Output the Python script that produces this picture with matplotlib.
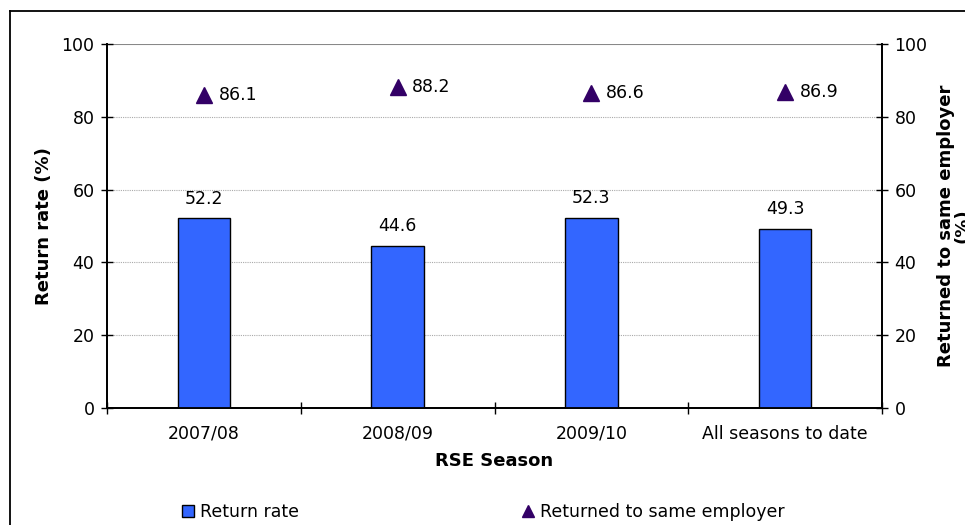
import numpy as np
import matplotlib.pyplot as plt
from matplotlib.lines import Line2D

# data
seasons = ['2007/08', '2008/09', '2009/10', 'All seasons to date']
return_rate = [52.2, 44.6, 52.3, 49.3]
same_employer = [86.1, 88.2, 86.6, 86.9]
y_ticks = [0, 20, 40, 60, 80, 100]

bar_color = '#3366FF'
tri_color = '#330066'
fs = 12.5

plt.rcParams['font.family'] = ['DejaVu Sans']
plt.rcParams['font.size'] = fs

fig = plt.figure(figsize=(9.65, 5.25), dpi=100)
ax = fig.add_axes([107 / 965, 1 - 408 / 525, 775 / 965, 364 / 525])
ax2 = ax.twinx()

x = np.arange(len(seasons))
ax.bar(x, return_rate, width=0.27, color=bar_color, edgecolor='black', linewidth=1, zorder=3)
for xi, v in zip(x, return_rate):
    ax.text(xi, v + 2.8, f'{v:.1f}', ha='center', va='bottom', fontsize=fs)

ax.plot(x, same_employer, linestyle='none', marker='^', markersize=12,
        color=tri_color, zorder=4)
for xi, v in zip(x, same_employer):
    ax.text(xi + 0.075, v, f'{v:.1f}', ha='left', va='center', fontsize=fs)

ax.set_xlim(-0.5, len(seasons) - 0.5)
ax.set_ylim(0, 100)
ax2.set_ylim(0, 100)

# gridlines
for t in y_ticks[1:-1]:
    ax.axhline(t, color='#aaaaaa', linewidth=0.8, linestyle=(0, (1, 1)), zorder=1)
ax.axhline(100, color='#888888', linewidth=1.5, zorder=1)

# category ticks at boundaries, labels centred
ax.set_xticks(np.arange(-0.5, len(seasons), 1.0))
ax.set_xticklabels([])
ax.set_xticks(x, minor=True)
ax.set_xticklabels(seasons, minor=True)
ax.tick_params(axis='x', which='major', direction='inout', length=8, width=1)
ax.tick_params(axis='x', which='minor', length=0, pad=12, labelsize=fs)

ax.set_yticks(y_ticks)
ax2.set_yticks(y_ticks)
ax.tick_params(axis='y', direction='inout', length=8, width=1, pad=5, labelsize=fs)
ax2.tick_params(axis='y', direction='inout', length=8, width=1, pad=5, labelsize=fs)

for a in (ax, ax2):
    a.spines['top'].set_visible(False)
    for s in ('left', 'right', 'bottom'):
        a.spines[s].set_linewidth(1.3)

ax.set_xlabel('RSE Season', fontweight='bold', fontsize=13, labelpad=7)
ax.set_ylabel('Return rate (%)', fontweight='bold', fontsize=13, labelpad=6)
ax2.set_ylabel('Returned to same employer\n(%)', fontweight='bold', fontsize=13,
               labelpad=7, linespacing=0.9)

# legend, two entries placed like the original
leg_y = 1 - 512 / 525
h_bar = Line2D([], [], linestyle='none', marker='s', markersize=8,
               markerfacecolor=bar_color, markeredgecolor='black')
h_tri = Line2D([], [], linestyle='none', marker='^', markersize=8, color=tri_color)
for h, lab, lx in [(h_bar, 'Return rate', 181 / 965),
                   (h_tri, 'Returned to same employer', 521 / 965)]:
    fig.legend([h], [lab], loc='center left', bbox_to_anchor=(lx, leg_y),
               frameon=False, fontsize=fs, handletextpad=0.3, handlelength=0.8,
               borderpad=0, borderaxespad=0)

# outer chart frame (cut by the image edges on the right and bottom)
fig.add_artist(Line2D([10 / 965, 1.0], [1 - 11 / 525] * 2, color='black',
                      linewidth=1.3, transform=fig.transFigure))
fig.add_artist(Line2D([10 / 965] * 2, [0.0, 1 - 11 / 525], color='black',
                      linewidth=1.3, transform=fig.transFigure))

fig.savefig('out.png', dpi=100)
